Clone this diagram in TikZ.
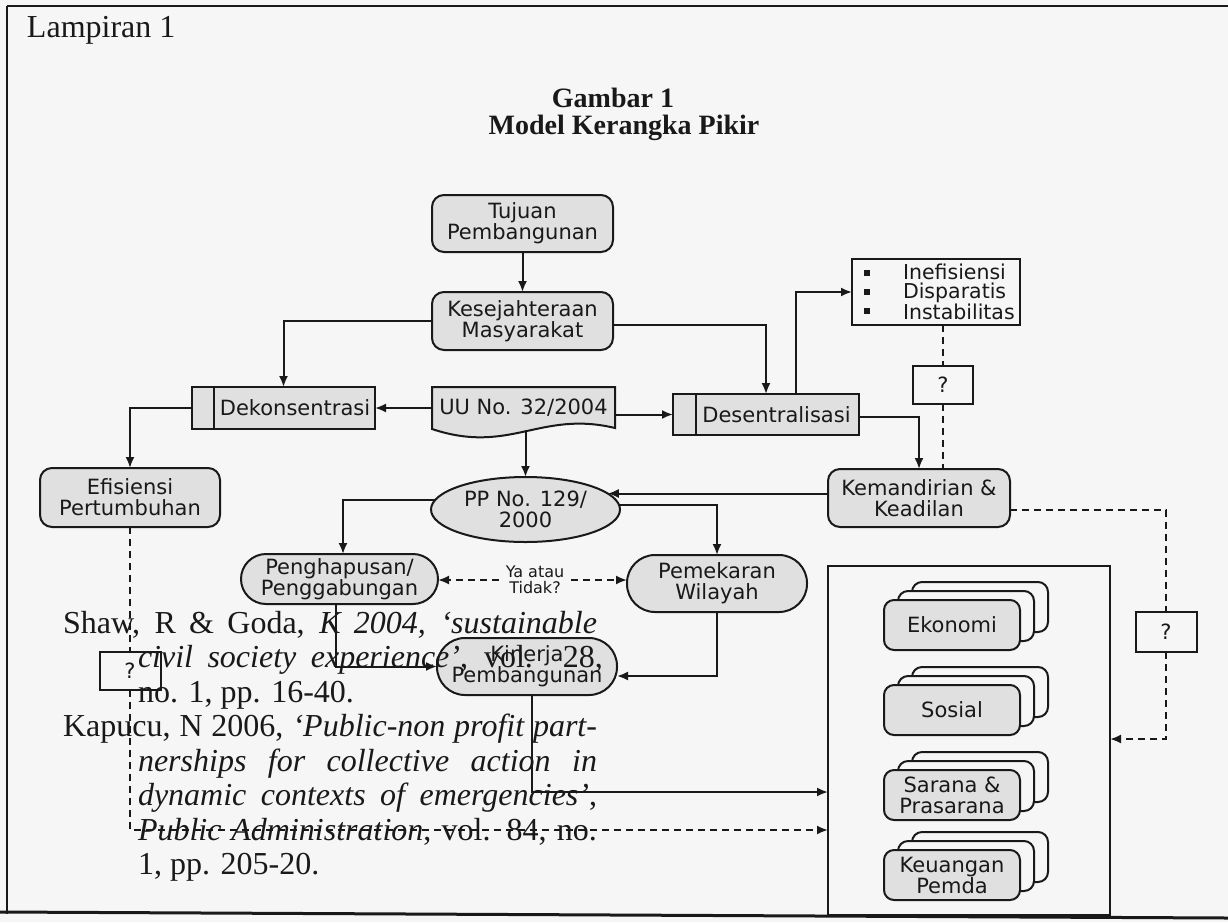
\documentclass[tikz,border=0pt]{standalone}
\usepackage{fontspec}
\setmainfont{Liberation Serif}
\newfontfamily\diafont{DejaVu Sans}
\usetikzlibrary{arrows.meta,shapes.geometric}
\definecolor{nodefill}{gray}{0.88}
\definecolor{paper}{gray}{0.965}
\definecolor{ink}{gray}{0.1}
\begin{document}
\begin{tikzpicture}[x=1pt,y=-1pt,
  every node/.style={inner sep=0pt, outer sep=0pt, text=ink},
  dtext/.style={font=\diafont\fontsize{21}{21}\selectfont, align=center},
  conn/.style={draw=ink, line width=2pt},
  arr/.style={conn, -{Latex[length=11pt,width=9pt]}},
  dashconn/.style={conn, dash pattern=on 7pt off 5pt},
  dasharr/.style={dashconn, -{Latex[length=11pt,width=9pt]}},
  rbox/.style={dtext, draw=ink, line width=2pt, fill=nodefill, rounded corners=12pt, minimum width=181pt, minimum height=57pt},
  sbox/.style={dtext, draw=ink, line width=2pt, fill=nodefill},
  pbox/.style={dtext, draw=ink, line width=2pt, fill=nodefill, minimum height=42pt},
  qbox/.style={dtext, draw=ink, line width=2pt, fill=paper, minimum width=60pt, minimum height=38pt},
  card/.style={dtext, draw=ink, line width=2pt, rounded corners=10pt, minimum width=136pt, minimum height=50pt},
  bulletmark/.style={fill=ink, minimum size=6pt},
  reftext/.style={font=\fontsize{32}{34}\selectfont, anchor=base west},
  titletext/.style={font=\bfseries\fontsize{28}{32}\selectfont, anchor=base}
]
\useasboundingbox (0,0) rectangle (1228,922);
\fill[paper] (0,0) rectangle (1228,922);

% frame
\draw[ink, line width=2.6pt] (7,6) -- (1228,6);
\draw[ink, line width=2.6pt] (7,6) -- (7,914);
\draw[ink, line width=3pt] (0,912) -- (1228,918);

% titles
\node[font=\fontsize{32}{36}\selectfont, anchor=base west] (lamp) at (27,37) {Lampiran 1};
\node[titletext] (gam) at (613,107) {Gambar 1};
\node[titletext] (mod) at (624,134) {Model Kerangka Pikir};

% nodes
\node[rbox] (tujuan) at (522.5,223.5) {Tujuan\\Pembangunan};
\node[rbox, minimum height=58pt] (kesej) at (522.5,321) {Kesejahteraan\\Masyarakat};

\node[pbox, minimum width=183pt] (dekon) at (283.5,408) {\hspace*{23pt}Dekonsentrasi};
\draw[conn] ([xshift=22pt]dekon.north west) -- ([xshift=22pt]dekon.south west);

\draw[conn, fill=nodefill] (432,387) -- (615,387) -- (615,428) .. controls (540,410) and (510,455) .. (432,429) -- cycle;
\node[dtext, minimum width=183pt, minimum height=44pt] (uu) at (523.5,408) {UU No. 32/2004};

\node[pbox, minimum width=186pt, minimum height=41pt] (desen) at (766,414.5) {\hspace*{21pt}Desentralisasi};
\draw[conn] ([xshift=23pt]desen.north west) -- ([xshift=23pt]desen.south west);

\node[draw=ink, line width=2pt, fill=paper, minimum width=168pt, minimum height=66pt] (inef) at (936,292) {};
\node[dtext, align=left, anchor=west, font=\diafont\fontsize{20.5}{19.5}\selectfont] (ineft) at (903,292) {Inefisiensi\\Disparatis\\Instabilitas};
\node[bulletmark] (bu1) at (867,273) {};
\node[bulletmark] (bu2) at (867,292) {};
\node[bulletmark] (bu3) at (867,311) {};

\node[qbox] (q1) at (943,385) {?};
\node[rbox, minimum width=182pt, minimum height=58pt] (kemand) at (919,498) {Kemandirian \&\\Keadilan};
\node[rbox, minimum width=180pt, minimum height=59pt] (efis) at (130,497.5) {Efisiensi\\Pertumbuhan};
\node[sbox, ellipse, minimum width=189pt, minimum height=65pt] (pp) at (525.5,509.5) {PP No. 129/\\2000};
\node[sbox, minimum width=197pt, minimum height=50pt, rounded corners=25pt] (hapus) at (339.5,579) {Penghapusan/\\Penggabungan};
\node[sbox, minimum width=180pt, minimum height=57pt, rounded corners=28pt] (mekar) at (717,583.5) {Pemekaran\\Wilayah};
\node[sbox, minimum width=180pt, minimum height=57pt, rounded corners=28pt] (kinerja) at (527,666.5) {Kinerja\\Pembangunan};
\node[font=\diafont\fontsize{16}{16}\selectfont, align=center, inner xsep=7pt] (ya) at (535,580) {Ya atau\\Tidak?};

\node[qbox, minimum width=61pt] (q2) at (130,671) {?};
\node[qbox, minimum width=61pt, minimum height=40pt] (q3) at (1166,632) {?};

\node[draw=ink, line width=2pt, minimum width=282pt, minimum height=349pt] (big) at (969,740.5) {};
\foreach \n/\yc/\t in {eko/625/{Ekonomi}, sos/710/{Sosial}, sar/795/{Sarana \&\\Prasarana}, keu/875/{Keuangan\\Pemda}} {
  \node[card, fill=paper] (\n3) at (980,\yc-18) {};
  \node[card, fill=paper] (\n2) at (966,\yc-9) {};
  \node[card, fill=nodefill] (\n) at (952,\yc) {\t};
}

% connectors
\draw[arr] (tujuan) -- (kesej);
\draw[arr] (kesej.west) -| (dekon.north);
\draw[arr] ([yshift=-4pt]kesej.east) -| (desen.north);
\draw[arr] (uu.west) -- (uu.west -| dekon.east);
\draw[arr] (uu.east |- desen.west) -- (desen.west);
\draw[arr] (pp.north |- uu.south) -- (pp.north);
\draw[arr] ([xshift=30pt]desen.north) |- (inef.west);
\draw[arr] ([yshift=-2.5pt]desen.east) -| (kemand.north);
\draw[dashconn] (q1.north |- inef.south) -- (q1.north);
\draw[dashconn] (q1.south) -- (q1.south |- kemand.north);
\draw[arr] (kemand.west |- pp.11.5) -- (pp.11.5);
\draw[arr] (pp.3.4) -| (mekar.north);
\draw[arr] (pp.174) -| ([xshift=3.5pt]hapus.north);
\draw[dasharr] (ya.west) -- (ya.west -| hapus.east);
\draw[dasharr] (ya.east) -- (ya.east -| mekar.west);
\draw[arr] ([xshift=-3.5pt]hapus.south) |- (kinerja.west);
\draw[arr] (mekar.south) |- ([yshift=-9.5pt]kinerja.east);
\coordinate (kbend) at (532,792);
\draw[arr] ([xshift=5pt]kinerja.south) -- (kbend) -- (kbend -| big.west);
\draw[arr] (dekon.west) -| (efis.north);
\draw[dashconn] (efis.south) -- (q2.north);
\coordinate (ebend) at (130,830);
\draw[dasharr] (q2.south) -- (ebend) -- (ebend -| big.west);
\coordinate (kc1) at (1166,510);
\coordinate (kc2) at (1166,739);
\draw[dashconn] (kemand.east |- kc1) -- (kc1) -- (q3.north);
\draw[dasharr] (q3.south) -- (kc2) -- (kc2 -| big.east);

% reference text overlaid
\node[reftext] (r1) at (63,633) {\makebox[534pt][s]{Shaw, R \& Goda, \textit{K 2004, `sustainable}}};
\node[reftext] (r2) at (138,667.5) {\makebox[465pt][s]{\textit{civil society experience'}, vol. 28,}};
\node[reftext] (r3) at (138,702) {no. 1, pp. 16-40.};
\node[reftext] (r4) at (63,736.5) {\makebox[534pt][s]{Kapucu, N 2006, \textit{`Public-non profit part-}}};
\node[reftext] (r5) at (138,771) {\makebox[459pt][s]{\textit{nerships for collective action in}}};
\node[reftext] (r6) at (138,805.5) {\makebox[459pt][s]{\textit{dynamic contexts of emergencies'},}};
\node[reftext] (r7) at (138,840) {\makebox[459pt][s]{\textit{Public Administration}, vol. 84, no.}};
\node[reftext] (r8) at (138,874.5) {1, pp. 205-20.};
\end{tikzpicture}
\end{document}
